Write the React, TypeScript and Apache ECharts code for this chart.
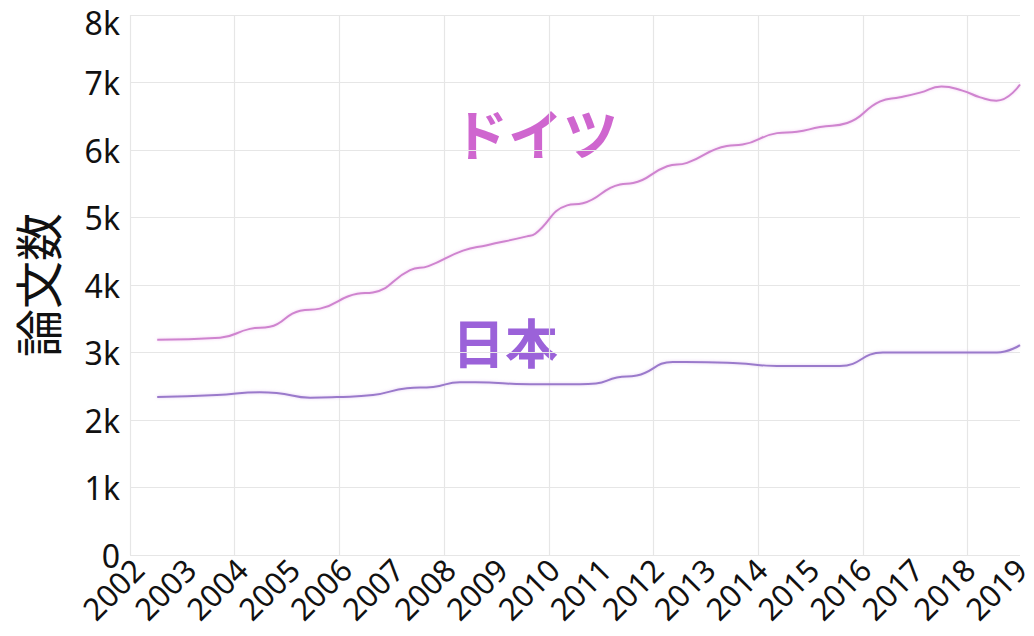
import React, { useEffect, useRef } from "react";
import * as echarts from "echarts";

// Germany (ドイツ): decimal year positions and paper counts
const germanyYears = [
  2002.52, 2003.72, 2004.29, 2004.67, 2005.25, 2005.63, 2006.34, 2006.64,
  2007.35, 2007.7, 2008.36, 2008.82, 2009.58, 2009.74, 2010.35, 2010.65,
  2011.36, 2011.61, 2012.26, 2012.64, 2013.4, 2013.7, 2014.36, 2014.74,
  2015.18, 2015.7, 2016.33, 2016.71, 2017.09, 2017.5, 2017.9, 2018.24,
  2018.55, 2019.0,
];
const germanyValues = [
  3190, 3220, 3350, 3380, 3620, 3650, 3870, 3890,
  4220, 4280, 4510, 4590, 4720, 4760, 5180, 5210,
  5490, 5510, 5760, 5810, 6060, 6080, 6250, 6270,
  6340, 6400, 6720, 6780, 6850, 6940, 6880, 6780,
  6730, 6970,
];

// Japan (日本)
const japanYears = [
  2002.52, 2003.66, 2004.48, 2004.8, 2005.44, 2005.95, 2006.64, 2007.29,
  2007.79, 2008.3, 2008.6, 2009.64, 2010.6, 2010.9, 2011.3, 2011.68,
  2012.37, 2012.6, 2013.6, 2014.36, 2015.56, 2016.38, 2017.5, 2018.56,
  2019.0,
];
const japanValues = [
  2340, 2370, 2410, 2400, 2330, 2340, 2370, 2470,
  2490, 2560, 2560, 2530, 2530, 2540, 2630, 2660,
  2860, 2860, 2840, 2800, 2800, 3000, 3000, 3000,
  3110,
];

const yearMin = 2002;
const yearMax = 2019;
const yTicks = [0, 1000, 2000, 3000, 4000, 5000, 6000, 7000, 8000];

const seriesNames = ["ドイツ", "日本"];
const yAxisTitle = "論文数";

const zip = (xs: number[], ys: number[]) => xs.map((x, i) => [x, ys[i]]);

export default function App() {
  const ref = useRef<HTMLDivElement>(null);

  useEffect(() => {
    if (!ref.current) return;
    const chart = echarts.init(ref.current, null, { renderer: "svg" });
    const tickFont = "'Noto Sans', 'Open Sans', sans-serif";
    const cjkFont = "'Noto Sans CJK JP', sans-serif";
    const yMax = yTicks[yTicks.length - 1];
    const labelShift = 8;
    chart.setOption({
      animation: false,
      backgroundColor: "#ffffff",
      grid: [
        { left: 130, right: 14, top: 15, bottom: 81, containLabel: false },
        // same-width grid, shifted right, only used to place the rotated year labels
        {
          left: 130 + labelShift,
          right: 14 - labelShift,
          top: 15,
          bottom: 81,
          containLabel: false,
        },
      ],
      xAxis: [
        {
          type: "value",
          gridIndex: 0,
          min: yearMin,
          max: yearMax,
          interval: 2,
          axisLine: { show: false },
          axisTick: { show: false },
          axisLabel: { show: false },
          splitLine: {
            show: true,
            showMaxLine: false,
            lineStyle: { color: "#e6e6e6", width: 1.2 },
          },
        },
        {
          type: "value",
          gridIndex: 1,
          min: yearMin,
          max: yearMax,
          interval: 1,
          axisLine: { show: false },
          axisTick: { show: false },
          splitLine: { show: false },
          axisLabel: {
            rotate: 45,
            margin: 9,
            fontSize: 31,
            color: "#111",
            fontFamily: tickFont,
            formatter: (v: number) => String(v),
          },
        },
      ],
      yAxis: [
        {
          type: "value",
          gridIndex: 0,
          min: yTicks[0],
          max: yMax,
          interval: 1000,
          name: yAxisTitle,
          nameLocation: "middle",
          nameRotate: 90,
          nameGap: 70,
          nameTextStyle: { fontSize: 48, color: "#111", fontFamily: cjkFont },
          axisLine: { show: false },
          axisTick: { show: false },
          splitLine: { lineStyle: { color: "#e6e6e6", width: 1.2 } },
          axisLabel: {
            fontSize: 32,
            color: "#111",
            margin: 10,
            fontFamily: tickFont,
            formatter: (v: number) =>
              v === yMax ? "{top|" + v / 1000 + "k}" : v === 0 ? "0" : v / 1000 + "k",
            rich: {
              top: {
                fontSize: 32,
                color: "#111",
                fontFamily: tickFont,
                padding: [14, 0, 0, 0],
              },
            },
          },
        },
        {
          type: "value",
          gridIndex: 1,
          min: yTicks[0],
          max: yMax,
          show: false,
          splitLine: { show: false },
        },
      ],
      series: [
        {
          name: seriesNames[0],
          type: "line",
          xAxisIndex: 0,
          yAxisIndex: 0,
          data: zip(germanyYears, germanyValues),
          smooth: 0.5,
          showSymbol: false,
          lineStyle: {
            color: "#cf84cf",
            width: 2,
            shadowColor: "rgba(235,170,235,0.6)",
            shadowBlur: 3,
          },
        },
        {
          name: seriesNames[1],
          type: "line",
          xAxisIndex: 0,
          yAxisIndex: 0,
          data: zip(japanYears, japanValues),
          smooth: 0.5,
          showSymbol: false,
          lineStyle: {
            color: "#9a7acb",
            width: 2,
            shadowColor: "rgba(210,170,235,0.6)",
            shadowBlur: 3,
          },
        },
      ],
      graphic: [
        {
          type: "text",
          left: 453,
          top: 103,
          style: {
            text: seriesNames[0],
            fontSize: 55,
            fontWeight: "bold",
            fontFamily: cjkFont,
            fill: "#cf66cf",
          },
        },
        {
          type: "text",
          left: 452,
          top: 314,
          style: {
            text: seriesNames[1],
            fontSize: 53,
            fontWeight: "bold",
            fontFamily: cjkFont,
            fill: "#9b62d9",
          },
        },
      ],
    });
    return () => chart.dispose();
  }, []);

  return (
    <div
      ref={ref}
      style={{ position: "fixed", left: 0, top: 0, width: 1034, height: 636 }}
    />
  );
}
